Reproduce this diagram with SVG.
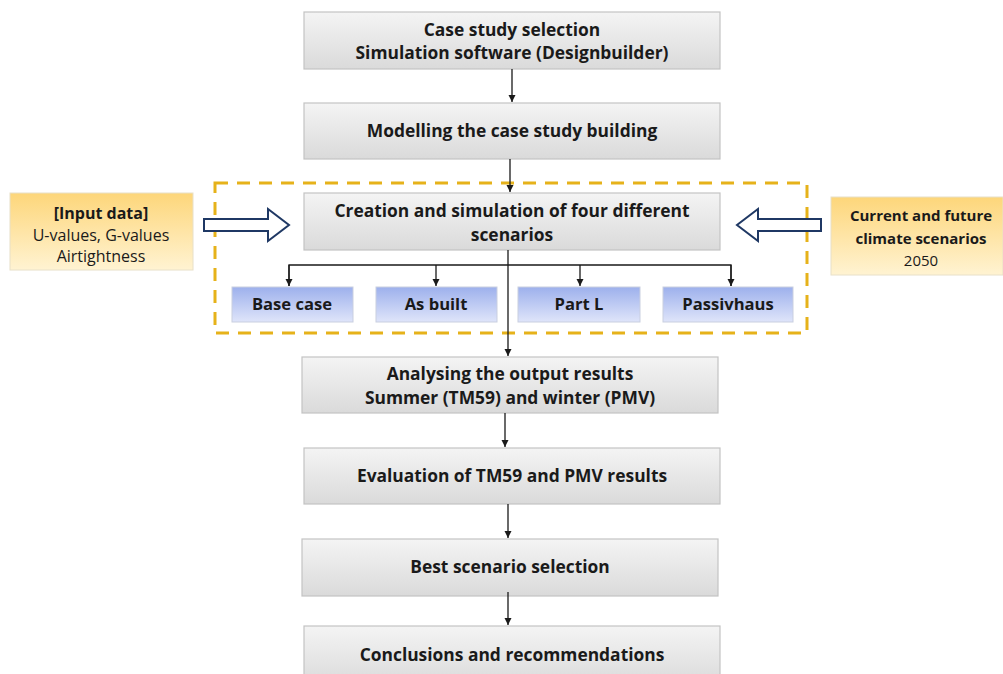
<svg xmlns="http://www.w3.org/2000/svg" width="1003" height="674" viewBox="0 0 1003 674">
<defs>
<linearGradient id="grey" x1="0" y1="0" x2="0" y2="1">
<stop offset="0" stop-color="#f4f4f4"/><stop offset="1" stop-color="#dadada"/>
</linearGradient>
<linearGradient id="blue" x1="0" y1="0" x2="0" y2="1">
<stop offset="0" stop-color="#9db0ec"/><stop offset="1" stop-color="#dfe5fa"/>
</linearGradient>
<linearGradient id="yellow" x1="0" y1="0" x2="0" y2="1">
<stop offset="0" stop-color="#fdd67a"/><stop offset="1" stop-color="#fff3d2"/>
</linearGradient>
<marker id="ah" markerWidth="8" markerHeight="8" refX="7" refY="4" orient="auto" markerUnits="userSpaceOnUse">
<path d="M0,0.5 L7,4 L0,7.5 z" fill="#1a1a1a"/>
</marker>
<style>
.g{fill:url(#grey);stroke:#c3c3c3;stroke-width:1.2}
.b{fill:url(#blue);stroke:#c9cfe0;stroke-width:1}
.y{fill:url(#yellow);stroke:#e8e0c8;stroke-width:1}
text{font-family:"Open Sans","Liberation Sans",Arial,sans-serif;font-size:16px;fill:#1a1a1a;text-anchor:middle}
.bd{font-weight:bold}
.m{font-size:17.4px}
.s{font-size:16.6px}
.r{font-size:15px}
.ln{stroke:#1a1a1a;stroke-width:1.3;fill:none}
.hollow{fill:#ffffff;stroke:#1f3864;stroke-width:2}
</style>
</defs>
<g id="group-box">
<rect x="215" y="183" width="592" height="150" fill="none" stroke="#e6b21a" stroke-width="3" stroke-dasharray="13,9"/>
</g>
<g id="n1"><rect class="g" x="304" y="12" width="416" height="57"/>
<text class="bd m" x="512" y="36">Case study selection</text>
<text class="bd m" x="512" y="59">Simulation software (Designbuilder)</text></g>
<g id="n2"><rect class="g" x="304" y="103" width="416" height="56"/>
<text class="bd m" x="512" y="137">Modelling the case study building</text></g>
<g id="n3"><rect class="g" x="304" y="193" width="416" height="57"/>
<text class="bd m" x="512" y="217">Creation and simulation of four different</text>
<text class="bd m" x="512" y="241">scenarios</text></g>
<g id="s1"><rect class="b" x="232" y="287" width="121" height="35"/><text class="bd s" x="292" y="310">Base case</text></g>
<g id="s2"><rect class="b" x="376" y="287" width="121" height="35"/><text class="bd s" x="436" y="310">As built</text></g>
<g id="s3"><rect class="b" x="518" y="287" width="122" height="35"/><text class="bd s" x="579" y="310">Part L</text></g>
<g id="s4"><rect class="b" x="663" y="287" width="130" height="35"/><text class="bd s" x="728" y="310">Passivhaus</text></g>
<g id="n4"><rect class="g" x="302" y="357" width="416" height="56"/>
<text class="bd m" x="510" y="380">Analysing the output results</text>
<text class="bd m" x="510" y="404">Summer (TM59) and winter (PMV)</text></g>
<g id="n5"><rect class="g" x="304" y="448" width="416" height="56"/>
<text class="bd m" x="512" y="482">Evaluation of TM59 and PMV results</text></g>
<g id="n6"><rect class="g" x="302" y="539" width="416" height="57"/>
<text class="bd m" x="510" y="573">Best scenario selection</text></g>
<g id="n7"><rect class="g" x="304" y="626" width="416" height="60"/>
<text class="bd m" x="512" y="661">Conclusions and recommendations</text></g>
<g id="left-input"><rect class="y" x="10" y="193" width="183" height="77"/>
<text class="bd" x="101" y="219">[Input data]</text>
<text x="101" y="241">U-values, G-values</text>
<text x="101" y="262">Airtightness</text></g>
<g id="right-input"><rect class="y" x="831" y="197" width="172" height="78"/>
<text class="bd r" x="921" y="221">Current and future</text>
<text class="bd r" x="921" y="244">climate scenarios</text>
<text class="r" x="921" y="266">2050</text></g>
<g id="connectors">
<line class="ln" x1="512" y1="69" x2="512" y2="102" marker-end="url(#ah)"/>
<line class="ln" x1="510" y1="159" x2="510" y2="192" marker-end="url(#ah)"/>
<line class="ln" x1="508" y1="250" x2="508" y2="356" marker-end="url(#ah)"/>
<polyline class="ln" points="289,286 289,265 731,265 731,286"/>
<line class="ln" x1="289" y1="265" x2="289" y2="286" marker-end="url(#ah)"/>
<line class="ln" x1="436" y1="265" x2="436" y2="286" marker-end="url(#ah)"/>
<line class="ln" x1="580" y1="265" x2="580" y2="286" marker-end="url(#ah)"/>
<line class="ln" x1="731" y1="265" x2="731" y2="286" marker-end="url(#ah)"/>
<line class="ln" x1="505" y1="413" x2="505" y2="447" marker-end="url(#ah)"/>
<line class="ln" x1="508" y1="504" x2="508" y2="538" marker-end="url(#ah)"/>
<line class="ln" x1="508" y1="592" x2="508" y2="625" marker-end="url(#ah)"/>
<path class="hollow" d="M204,219 L268,219 L268,209 L289,225 L268,241 L268,231 L204,231 Z"/>
<path class="hollow" d="M821,219 L758,219 L758,209 L737,225 L758,241 L758,231 L821,231 Z"/>
</g>
</svg>
